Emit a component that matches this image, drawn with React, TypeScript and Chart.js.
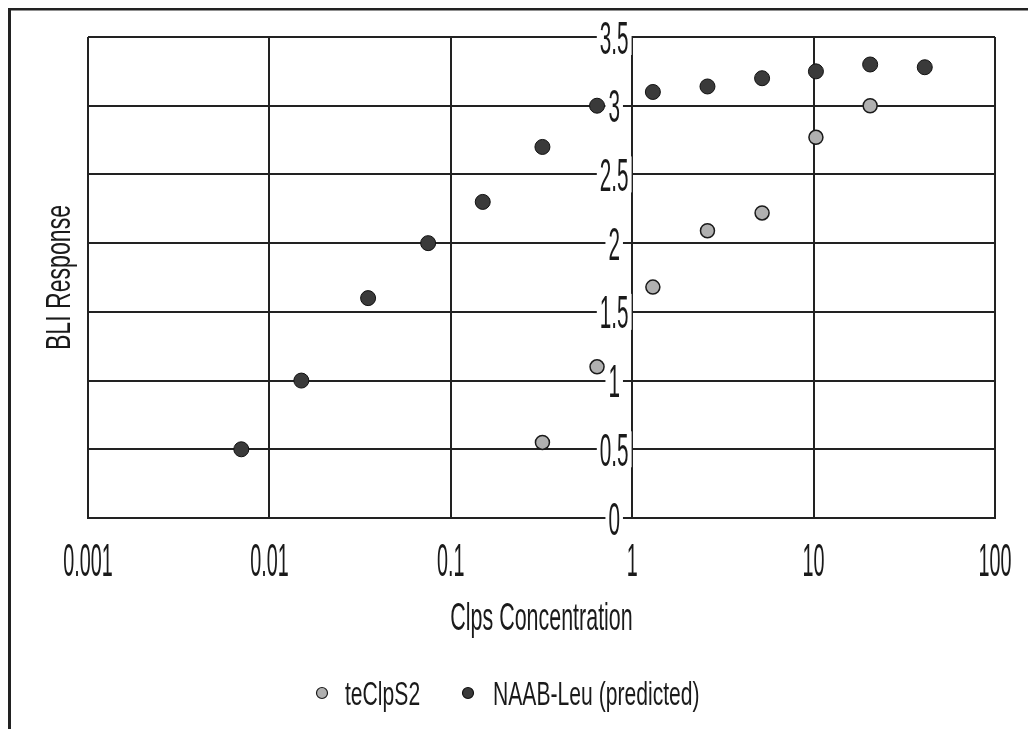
import React, { useEffect, useRef } from "react";
import { Chart, registerables } from "chart.js";

Chart.register(...registerables);

// ---------- data ----------
const xTickValues = [0.001, 0.01, 0.1, 1, 10, 100];
const xTickLabels = ["0.001", "0.01", "0.1", "1", "10", "100"];
const yTickValues = [0, 0.5, 1, 1.5, 2, 2.5, 3, 3.5];
const yTickLabels = ["0", "0.5", "1", "1.5", "2", "2.5", "3", "3.5"];

const seriesNames = ["teClpS2", "NAAB-Leu (predicted)"];

const teClpS2X = [0.32, 0.64, 1.3, 2.6, 5.2, 10.3, 20.5];
const teClpS2Y = [0.55, 1.1, 1.68, 2.09, 2.22, 2.77, 3.0];

const naabX = [0.007, 0.015, 0.035, 0.075, 0.15, 0.32, 0.64, 1.3, 2.6, 5.2, 10.3, 20.5, 41];
const naabY = [0.5, 1.0, 1.6, 2.0, 2.3, 2.7, 3.0, 3.1, 3.14, 3.2, 3.25, 3.3, 3.28];

const xTitle = "Clps Concentration";
const yTitle = "BLI Response";

// ---------- styles ----------
const W = 1020;
const H = 721;
const FONT = '"Liberation Sans", Arial, sans-serif';
const INK = "#1a1a1a";
const LIGHT_FILL = "#b0b0b0";
const DARK_FILL = "#3a3a3a";

function drawCondensed(
  ctx: CanvasRenderingContext2D,
  text: string,
  x: number,
  y: number,
  size: number,
  sx: number,
  align: CanvasTextAlign,
  rot = 0
) {
  ctx.save();
  ctx.translate(x, y);
  if (rot) ctx.rotate(rot);
  ctx.scale(sx, 1);
  ctx.font = `${size}px ${FONT}`;
  ctx.textAlign = align;
  ctx.textBaseline = "alphabetic";
  ctx.fillStyle = INK;
  ctx.fillText(text, 0, 0);
  ctx.restore();
}

function textWidth(ctx: CanvasRenderingContext2D, text: string, size: number, sx: number) {
  ctx.save();
  ctx.font = `${size}px ${FONT}`;
  const w = ctx.measureText(text).width * sx;
  ctx.restore();
  return w;
}

const decorPlugin = {
  id: "decor",
  beforeDraw(chart: any) {
    const ctx = chart.ctx as CanvasRenderingContext2D;
    ctx.save();
    ctx.fillStyle = "#ffffff";
    ctx.fillRect(0, 0, chart.width, chart.height);
    ctx.fillStyle = "#222";
    ctx.fillRect(0, 0, 3, chart.height);
    ctx.fillRect(0, 0, chart.width, 2.5);
    ctx.restore();
  },
  beforeDatasetsDraw(chart: any) {
    const ctx = chart.ctx as CanvasRenderingContext2D;
    const xs = chart.scales.x;
    const ys = chart.scales.y;
    const axisX = xs.getPixelForValue(1);
    const cx = axisX - 18;
    const size = 46;
    const sx = 0.45;
    yTickValues.forEach((v, i) => {
      const py = ys.getPixelForValue(v);
      const label = yTickLabels[i];
      const w = textWidth(ctx, label, size, sx);
      ctx.save();
      ctx.fillStyle = "#ffffff";
      ctx.fillRect(cx - w / 2 - 3, py - 18, w + 6, 36);
      ctx.restore();
      drawCondensed(ctx, label, cx, py + 16.5, size, sx, "center");
    });
  },
  afterDraw(chart: any) {
    const ctx = chart.ctx as CanvasRenderingContext2D;
    const xs = chart.scales.x;
    const area = chart.chartArea;
    // x tick labels
    xTickValues.forEach((v, i) => {
      const px = xs.getPixelForValue(v);
      drawCondensed(ctx, xTickLabels[i], px, area.bottom + 58, 46, 0.43, "center");
    });
    // x title
    const midX = (area.left + area.right) / 2;
    drawCondensed(ctx, xTitle, midX, area.bottom + 112, 39, 0.55, "center");
    // y title
    const midY = (area.top + area.bottom) / 2;
    drawCondensed(ctx, yTitle, 62, midY, 35, 0.66, "center", -Math.PI / 2);
    // legend
    const ds = chart.data.datasets;
    const legendY = 685;
    const items = [
      { mx: 314, tx: 337 },
      { mx: 460, tx: 485 },
    ];
    items.forEach((it, i) => {
      const d = ds[i];
      ctx.save();
      ctx.beginPath();
      ctx.arc(it.mx, legendY, 5.5, 0, Math.PI * 2);
      ctx.fillStyle = d.backgroundColor;
      ctx.fill();
      ctx.lineWidth = 1.2;
      ctx.strokeStyle = d.borderColor;
      ctx.stroke();
      ctx.restore();
      drawCondensed(ctx, d.label, it.tx, legendY + 12, 33, 0.64, "left");
    });
  },
};

export default function App() {
  const ref = useRef<HTMLCanvasElement | null>(null);

  useEffect(() => {
    if (!ref.current) return;
    const chart = new Chart(ref.current, {
      type: "scatter",
      data: {
        datasets: [
          {
            label: seriesNames[0],
            data: teClpS2X.map((x, i) => ({ x, y: teClpS2Y[i] })),
            backgroundColor: LIGHT_FILL,
            borderColor: INK,
            borderWidth: 1.5,
            pointRadius: 7,
            pointHoverRadius: 7,
          },
          {
            label: seriesNames[1],
            data: naabX.map((x, i) => ({ x, y: naabY[i] })),
            backgroundColor: DARK_FILL,
            borderColor: "#111",
            borderWidth: 1,
            pointRadius: 7.5,
            pointHoverRadius: 7.5,
          },
        ],
      },
      options: {
        responsive: false,
        animation: false,
        events: [],
        layout: { padding: { left: 80, right: 33, top: 29, bottom: 211 } },
        plugins: {
          legend: { display: false },
          tooltip: { enabled: false },
          title: { display: false },
        },
        scales: {
          x: {
            type: "logarithmic",
            min: 0.001,
            max: 100,
            position: "bottom",
            afterBuildTicks: (s: any) => {
              s.ticks = xTickValues.map((v) => ({ value: v }));
            },
            ticks: { display: false },
            grid: { color: "#222", lineWidth: 2, drawTicks: false },
            border: { display: true, color: "#222", width: 2 },
            title: { display: false },
          },
          y: {
            type: "linear",
            min: 0,
            max: 3.5,
            position: { x: 1 } as any,
            afterBuildTicks: (s: any) => {
              s.ticks = yTickValues.map((v) => ({ value: v }));
            },
            ticks: { display: false },
            grid: { color: "#222", lineWidth: 2, drawTicks: false },
            border: { display: true, color: "#222", width: 2 },
            title: { display: false },
          },
        },
      },
      plugins: [decorPlugin],
    });
    return () => chart.destroy();
  }, []);

  return (
    <div style={{ width: W, height: H }}>
      <canvas ref={ref} width={W} height={H} style={{ display: "block" }} />
    </div>
  );
}
